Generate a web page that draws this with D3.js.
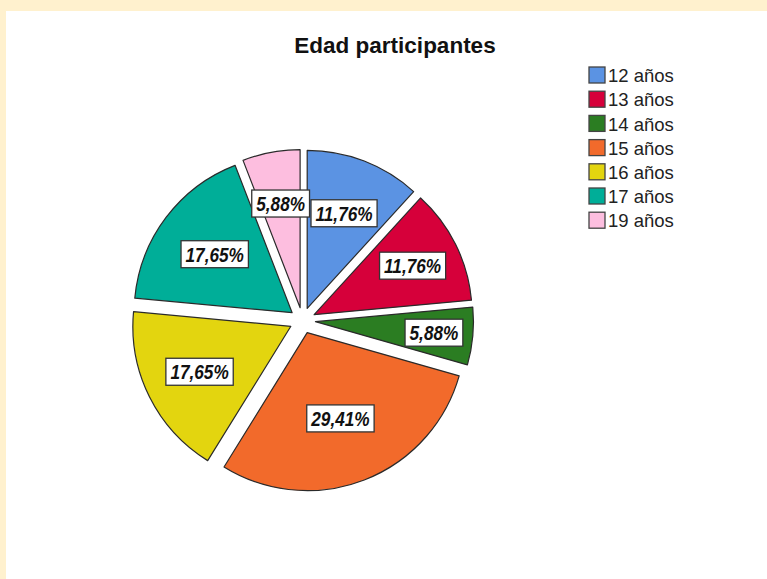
<!DOCTYPE html>
<html>
<head>
<meta charset="utf-8">
<script src="https://cdn.jsdelivr.net/npm/d3@7"></script>
<style>
  html, body { margin: 0; padding: 0; background: #FFF1CE; }
  svg { display: block; }
</style>
</head>
<body>
<svg id="chart" width="767" height="579"></svg>
<script>
const categories = ["12 años", "13 años", "14 años", "15 años", "16 años", "17 años", "19 años"];
const counts = [2, 2, 1, 5, 3, 3, 1];
const colors = ["#5B93E3", "#D6003A", "#2B7D22", "#F26A2B", "#E3D50F", "#00AE98", "#FDBEDF"];
const title = "Edad participantes";

const svg = d3.select("#chart");
const W = 767, H = 579;

// layout (not data)
const cx = 302.5, cy = 320.5, R = 158, explode = 13;
const labelRadius = [102, 110, 119, 92, 102, 97, 106];

// white panel
svg.append("rect").attr("x", 6).attr("y", 11).attr("width", W - 6).attr("height", H - 11).attr("fill", "#ffffff");

svg.append("text")
  .attr("x", 395).attr("y", 53)
  .attr("text-anchor", "middle")
  .attr("font-family", "Liberation Sans, Arial, sans-serif")
  .attr("font-weight", "bold")
  .attr("font-size", 22.5)
  .attr("fill", "#111")
  .text(title);

const total = d3.sum(counts);
const pie = d3.pie().sort(null).value(d => d)(counts);
const arc = d3.arc().innerRadius(0).outerRadius(R);
const fmt = v => d3.format(".2f")(v).replace(".", ",") + "%";

const g = svg.append("g").attr("transform", `translate(${cx},${cy})`);

const slices = g.selectAll("g.slice").data(pie).enter().append("g")
  .attr("class", "slice")
  .attr("transform", d => {
    const m = (d.startAngle + d.endAngle) / 2;
    return `translate(${explode * Math.sin(m)},${-explode * Math.cos(m)})`;
  });

slices.append("path")
  .attr("d", arc)
  .attr("fill", (d, i) => colors[i])
  .attr("stroke", "#2a2a2a")
  .attr("stroke-width", 1.2)
  .attr("stroke-linejoin", "round");

const labels = slices.append("g")
  .attr("transform", (d, i) => {
    const m = (d.startAngle + d.endAngle) / 2;
    const r = labelRadius[i];
    return `translate(${r * Math.sin(m)},${-r * Math.cos(m)})`;
  });

const sx = 0.82;
labels.each(function(d) {
  const lg = d3.select(this);
  const rect = lg.append("rect");
  const t = lg.append("text")
    .attr("text-anchor", "middle")
    .attr("dy", "0.36em")
    .attr("transform", `scale(${sx},1)`)
    .attr("font-family", "Liberation Sans, Arial, sans-serif")
    .attr("font-weight", "bold")
    .attr("font-style", "italic")
    .attr("font-size", 21)
    .attr("fill", "#111")
    .text(fmt(d.value / total * 100));
  const w = t.node().getComputedTextLength() * sx;
  const bw = w + 9, bh = 27;
  rect.attr("x", -bw / 2).attr("y", -bh / 2).attr("width", bw).attr("height", bh)
    .attr("fill", "#ffffff").attr("stroke", "#333").attr("stroke-width", 1.3);
});

// legend
const lg = svg.append("g").attr("transform", "translate(589,67)");
const rowH = 24.2;
const items = lg.selectAll("g").data(categories).enter().append("g")
  .attr("transform", (d, i) => `translate(0,${i * rowH})`);
items.append("rect")
  .attr("x", 0).attr("y", 0).attr("width", 16).attr("height", 16)
  .attr("fill", (d, i) => colors[i])
  .attr("stroke", "#444").attr("stroke-width", 1.3);
items.append("text")
  .attr("x", 19).attr("y", 8.5).attr("dy", "0.36em")
  .attr("font-family", "Liberation Sans, Arial, sans-serif")
  .attr("font-size", 18.5)
  .attr("fill", "#222")
  .text(d => d);
</script>
</body>
</html>
